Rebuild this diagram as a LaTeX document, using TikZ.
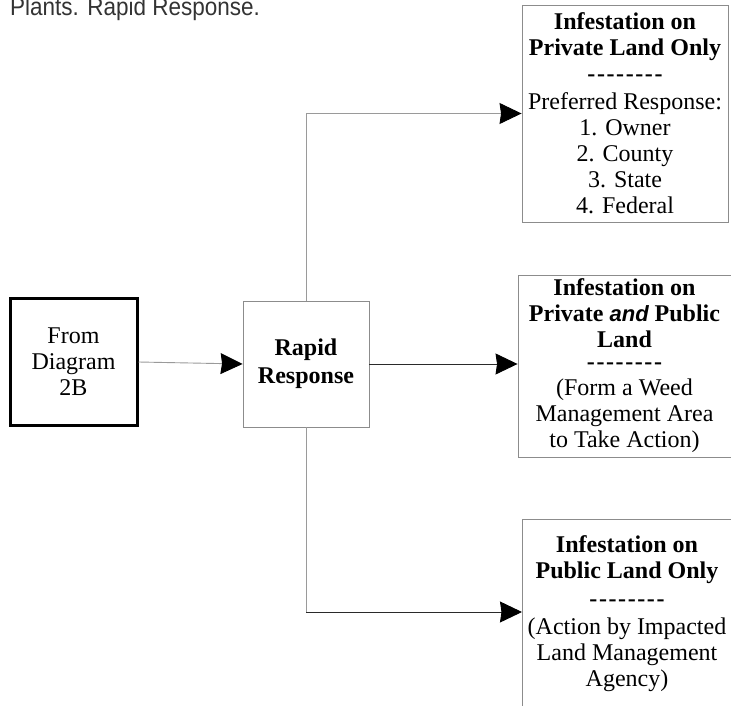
\documentclass[tikz,border=0pt]{standalone}
\usepackage{fontspec}
\setmainfont{Liberation Serif}
\newfontfamily\titlefont{Liberation Sans}[FakeStretch=0.9]
\newfontfamily\andfont{Liberation Sans}
\usetikzlibrary{arrows.meta}
\definecolor{boxgray}{HTML}{8C8C8C}
\definecolor{linegray}{HTML}{9A9A9A}
\definecolor{linedark}{HTML}{2A2A2A}
\definecolor{titlegray}{HTML}{333333}
\newcommand{\dashline}{\textbf{-\kern1.6pt-\kern1.6pt-\kern1.6pt-\kern1.6pt-\kern1.6pt-\kern1.6pt-\kern1.6pt-}}
\begin{document}
\begin{tikzpicture}[x=1pt,y=-1pt,
  txt/.style={align=center,font=\fontsize{24}{26}\selectfont,inner sep=0pt},
  graybox/.style={draw=boxgray,line width=0.9pt,fill=white,inner sep=0pt},
  thickbox/.style={draw=black,line width=3pt,fill=white,inner sep=0pt},
  conn/.style={line width=0.9pt},
  tip/.style={-{Stealth[length=22pt,width=21pt,inset=1.5pt,color=black]}}
]
\useasboundingbox (0,0) rectangle (731,706);

\node[anchor=base west,inner sep=0pt,text=titlegray,font=\titlefont\fontsize{25}{28}\selectfont] (title) at (10,15.5) {Plants. Rapid Response.};

\node[thickbox,txt,minimum width=127pt,minimum height=127pt] (from) at (73.5,362) {From\\Diagram\\2B};
\node[graybox,txt,minimum width=126pt,minimum height=126pt,font=\bfseries\fontsize{24}{28}\selectfont] (rapid) at (306,364) {Rapid\\Response};

\node[graybox,txt,minimum width=206pt,minimum height=217pt] (top) at (625,113.5)
  {\textbf{Infestation on}\\\textbf{Private Land Only}\\\dashline\\[2pt]Preferred Response:\\1. Owner\\2. County\\3. State\\4. Federal};

\node[graybox,txt,minimum width=213pt,minimum height=182pt] (mid) at (624.5,366)
  {\textbf{Infestation on}\\\textbf{Private {\andfont\bfseries\itshape\fontsize{22}{26}\selectfont and} Public}\\\textbf{Land}\\[-4pt]\dashline\\(Form a Weed\\Management Area\\to Take Action)};

\node[graybox,minimum width=260pt,minimum height=230pt,anchor=north west] (bot) at (522,519) {};
\node[txt] (bottxt) at (627,614) {\textbf{Infestation on}\\\textbf{Public Land Only}\\[2pt]\dashline\\[2pt](Action by Impacted\\Land Management\\Agency)};

\draw[conn,draw=linegray,tip] (from.east) -- (rapid.west);
\draw[conn,draw=linedark,tip] (rapid.east) -- (rapid.east -| mid.west);
\draw[conn,draw=linegray,tip] (rapid.north) |- (top.west);
\draw[conn,draw=linegray] (rapid.south) -- ([yshift=-93pt]bot.north west -| rapid.south);
\draw[conn,draw=linedark,tip] ([yshift=-93pt]bot.north west -| rapid.south) -- ([yshift=-93pt]bot.north west);
\end{tikzpicture}
\end{document}
